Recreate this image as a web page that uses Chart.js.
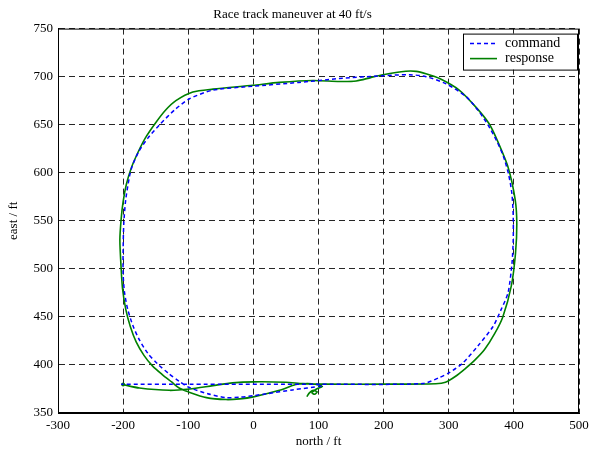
<!DOCTYPE html>
<html>
  <head>
    <meta charset="utf-8" />
    <title>Race track maneuver</title>
    <script src="https://cdn.jsdelivr.net/npm/chart.js@4/dist/chart.umd.min.js"></script>
    <style>
      body { margin: 0; background: #fff; }
    </style>
  </head>
  <body>
    <canvas id="myChart" width="604" height="449"></canvas>
    <script>
      // command path (north, east) in ft
      const cmdNorth = [105, 60, 20, 0, -20, -42, -70, -100, -114, -130, -147, -162, -175, -185, -193, -198, -200, -200, -199, -196, -190, -186, -176, -162, -144, -120, -98, -62, -1, 70, 132, 199, 240, 265, 296, 327, 345, 360, 373, 384, 392, 397, 399, 399, 397, 391, 380, 368, 345, 321.5, 301, 286, 260, 100, -100, -203];
      const cmdEast = [378, 374, 370, 368, 366.5, 366, 370, 377, 383, 391, 401, 412, 426, 441, 458, 476, 495, 520, 547, 572, 597, 607, 622, 636, 650, 666, 677, 686, 690, 694, 698, 701, 702, 700, 692.5, 679, 665, 650, 634, 617, 598, 578, 555, 530, 505, 475, 457, 440, 420, 402, 392, 387, 380.6, 380, 380, 380];

      // response path (north, east) in ft
      const rspNorth = [82, 86, 92, 98, 94, 90, 97, 106, 95, 80, 65, 40, 0, -21, -42, -72, -100, -114, -125, -140, -155, -168, -180, -189, -196, -201, -203, -205, -203, -200, -195, -188, -178, -166, -150, -135, -119, -93, -62, -1, 40, 91, 132, 158, 180, 199, 234, 250, 265, 286, 316, 342, 362, 375, 391, 402, 404.5, 402.5, 396, 383, 370, 355, 340, 325, 310, 295, 280, 200, 110, 76, 50, 0, -32, -62, -98, -129, -175, -200];
      const rspEast = [367, 371, 373.5, 372, 369.5, 371, 375, 377.5, 380, 380.5, 379.6, 373.6, 366.8, 364.7, 364, 366, 372, 376, 382, 390, 399, 410, 424, 440, 458, 480, 500, 530, 552, 570, 588, 604, 620, 636, 652, 665, 675, 684, 687, 691, 694, 696, 695, 695.5, 699, 702, 705.6, 705.5, 703, 698, 686, 668, 651, 633, 606, 572, 547, 516, 482, 450, 432, 416, 405, 396, 388, 382, 380.5, 380, 380, 380.6, 382, 382.4, 381.3, 378.5, 375, 373.6, 376, 379.6];

      const xTicks = [-300, -200, -100, 0, 100, 200, 300, 400, 500];
      const yTicks = [350, 400, 450, 500, 550, 600, 650, 700, 750];

      const toPts = (xs, ys) => xs.map((x, i) => ({ x: x, y: ys[i] }));

      const serif = "'Liberation Serif', 'Times New Roman', serif";

      const frameAndLegend = {
        id: "frameAndLegend",
        afterDraw(chart) {
          const { ctx, chartArea } = chart;
          ctx.save();
          ctx.strokeStyle = "#000";
          ctx.lineWidth = 1;
          ctx.setLineDash([]);
          ctx.strokeRect(chartArea.left + 0.5, chartArea.top + 0.5,
            chartArea.right - chartArea.left - 1, chartArea.bottom - chartArea.top - 1);

          // legend
          const bx = chartArea.right - 116, by = chartArea.top + 5;
          const bw = 114, bh = 36;
          ctx.fillStyle = "#fff";
          ctx.fillRect(bx, by, bw, bh);
          ctx.strokeRect(bx + 0.5, by + 0.5, bw, bh);
          chart.data.datasets.forEach((ds, i) => {
            const ly = by + 10 + i * 15;
            ctx.beginPath();
            ctx.strokeStyle = ds.borderColor;
            ctx.lineWidth = ds.borderWidth;
            ctx.setLineDash(ds.borderDash || []);
            ctx.moveTo(bx + 7, ly);
            ctx.lineTo(bx + 34, ly);
            ctx.stroke();
            ctx.setLineDash([]);
            ctx.fillStyle = "#000";
            ctx.font = "14px " + serif;
            ctx.textBaseline = "middle";
            ctx.fillText(ds.label, bx + 42, ly);
          });
          ctx.restore();
        },
      };

      const data = {
        datasets: [
          {
            label: "command",
            data: toPts(cmdNorth, cmdEast),
            borderColor: "#0000ff",
            borderWidth: 1.5,
            borderDash: [4, 3],
            showLine: true,
            pointRadius: 0,
            tension: 0.25,
          },
          {
            label: "response",
            data: toPts(rspNorth, rspEast),
            borderColor: "#008000",
            backgroundColor: "#008000",
            borderWidth: 1.6,
            showLine: true,
            pointRadius: (c) => (c.dataIndex === rspNorth.length - 1 ? 2 : 0),
            pointBorderWidth: 0,
            tension: 0.25,
          },
        ],
      };

      const gridOpts = {
        color: "rgba(0,0,0,0.85)",
        lineWidth: 1,
        drawTicks: false,
      };

      const config = {
        type: "scatter",
        data: data,
        options: {
          responsive: false,
          animation: false,
          layout: { padding: { left: 6, right: 25, top: 0, bottom: 0 } },
          plugins: {
            legend: { display: false },
            tooltip: { enabled: false },
            title: {
              display: true,
              text: "Race track maneuver at 40 ft/s",
              color: "#000",
              font: { family: serif, size: 13, weight: "normal" },
              padding: { top: 7, bottom: 6 },
            },
          },
          scales: {
            x: {
              type: "linear",
              min: -300,
              max: 500,
              afterBuildTicks: (s) => { s.ticks = xTicks.map((v) => ({ value: v })); },
              afterFit: (s) => { s.height = 36; },
              grid: gridOpts,
              border: { display: true, color: "#000", dash: [6, 4] },
              ticks: { color: "#000", padding: 5, font: { family: serif, size: 13 } },
              title: {
                display: true,
                text: "north / ft",
                color: "#000",
                font: { family: serif, size: 13 },
                padding: { top: 0, bottom: 0 },
              },
            },
            y: {
              type: "linear",
              min: 350,
              max: 750,
              afterBuildTicks: (s) => { s.ticks = yTicks.map((v) => ({ value: v })); },
              afterFit: (s) => { s.width = 52; },
              grid: gridOpts,
              border: { display: true, color: "#000", dash: [6, 4] },
              ticks: { color: "#000", padding: 5, font: { family: serif, size: 13 } },
              title: {
                display: true,
                text: "east / ft",
                color: "#000",
                font: { family: serif, size: 13 },
                padding: { top: 0, bottom: 4 },
              },
            },
          },
        },
        plugins: [frameAndLegend],
      };

      const ctx = document.getElementById("myChart");
      const myChart = new Chart(ctx, config);
    </script>
  </body>
</html>
